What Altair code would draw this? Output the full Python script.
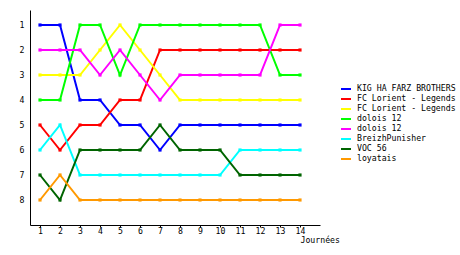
import altair as alt
import pandas as pd

journees = list(range(1, 15))
noms = ["KIG HA FARZ BROTHERS", "FC Lorient - Legends", "FC Lorient - Legends",
        "dolois 12", "dolois 12", "BreizhPunisher", "VOC 56", "loyatais"]
couleurs = ["#0000ff", "#ff0000", "#ffff00", "#00ff00", "#ff00ff", "#00ffff", "#006400", "#ff9900"]
rangs = [
    [1, 1, 4, 4, 5, 5, 6, 5, 5, 5, 5, 5, 5, 5],
    [5, 6, 5, 5, 4, 4, 2, 2, 2, 2, 2, 2, 2, 2],
    [3, 3, 3, 2, 1, 2, 3, 4, 4, 4, 4, 4, 4, 4],
    [4, 4, 1, 1, 3, 1, 1, 1, 1, 1, 1, 1, 3, 3],
    [2, 2, 2, 3, 2, 3, 4, 3, 3, 3, 3, 3, 1, 1],
    [6, 5, 7, 7, 7, 7, 7, 7, 7, 7, 6, 6, 6, 6],
    [7, 8, 6, 6, 6, 6, 5, 6, 6, 6, 7, 7, 7, 7],
    [8, 7, 8, 8, 8, 8, 8, 8, 8, 8, 8, 8, 8, 8],
]

cles = [f"{i}|{n}" for i, n in enumerate(noms)]
rows = []
for i, (k, r) in enumerate(zip(cles, rangs)):
    for j, v in zip(journees, r):
        rows.append({"cle": k, "ordre": i, "journee": j, "rang": v})
df = pd.DataFrame(rows)

FONT = "DejaVu Sans Mono"

chart = alt.Chart(df).mark_line(
    strokeWidth=2,
    point=alt.OverlayMarkDef(shape="square", size=10, filled=True, opacity=1),
).encode(
    x=alt.X("journee:Q",
            scale=alt.Scale(domain=[0.5, 15], nice=False, zero=False),
            axis=alt.Axis(values=journees, title="Journées", titleX=270, titleY=11.5,
                          titleAlign="left", titleBaseline="top", titleFontWeight="normal",
                          titleFont=FONT, titleFontSize=8.2, titleColor="black",
                          grid=False, tickSize=2, labelPadding=0, format="d")),
    y=alt.Y("rang:Q",
            scale=alt.Scale(domain=[0.4, 9], reverse=True, nice=False, zero=False),
            axis=alt.Axis(values=list(range(1, 9)), title=None, grid=False, ticks=False,
                          labelPadding=6, format="d")),
    color=alt.Color("cle:N",
                    scale=alt.Scale(domain=cles, range=couleurs),
                    legend=alt.Legend(title=None, orient="none", legendX=310, legendY=73,
                                      symbolType="stroke", symbolSize=100, symbolStrokeWidth=2,
                                      labelExpr="split(datum.label, '|')[1]",
                                      labelFont=FONT, labelFontSize=8.2, labelColor="black",
                                      rowPadding=0, labelOffset=5, padding=0)),
    detail="cle:N",
    order="journee:Q",
).properties(
    width=290, height=215,
    autosize=alt.AutoSizeParams(type="none"),
    padding={"left": 30, "top": 10, "right": 140, "bottom": 30},
).configure_view(stroke=None).configure_axis(
    domainColor="black", tickColor="black", labelColor="black",
    labelFont=FONT, labelFontSize=8.2, domainWidth=1,
)

chart.save("out.html", embed_options={"renderer": "svg", "actions": False})
